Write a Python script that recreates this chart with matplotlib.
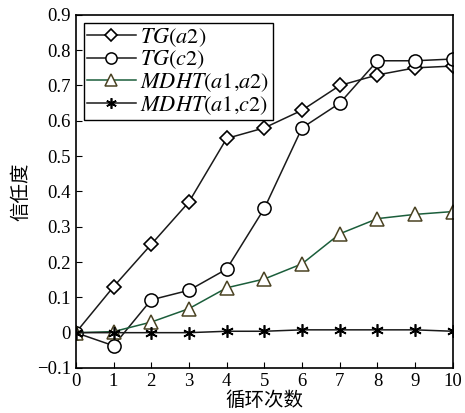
import matplotlib
matplotlib.use('Agg')
import matplotlib.pyplot as plt

plt.rcParams['font.family'] = ['Liberation Serif', 'Noto Sans CJK SC']
plt.rcParams['mathtext.fontset'] = 'stix'

# --- data ---
cycles = [0, 1, 2, 3, 4, 5, 6, 7, 8, 9, 10]
tg_a2 = [0, 0.13, 0.25, 0.37, 0.55, 0.58, 0.63, 0.70, 0.73, 0.75, 0.755]
tg_c2 = [0, -0.037, 0.093, 0.12, 0.18, 0.352, 0.58, 0.65, 0.77, 0.77, 0.775]
mdht_a1a2 = [0, 0.003, 0.03, 0.068, 0.127, 0.152, 0.195, 0.28, 0.323, 0.335, 0.343]
mdht_a1c2 = [0, 0, 0, 0, 0.004, 0.004, 0.008, 0.008, 0.008, 0.008, 0.004]

fig = plt.figure(figsize=(4.65, 4.13), dpi=100)
ax = fig.add_axes([0.163, 0.109, 0.811, 0.855])

ax.plot(cycles, tg_a2, color='#1a1a1a', lw=1.1, marker='D', ms=7.5,
        mfc='white', mec='black', mew=1.2, label=r'$TG(a2)$')
ax.plot(cycles, tg_c2, color='#1a1a1a', lw=1.1, marker='o', ms=9.5,
        mfc='white', mec='black', mew=1.1, label=r'$TG(c2)$')
ax.plot(cycles, mdht_a1a2, color='#1b5e3b', lw=1.1, marker='^', ms=10,
        mfc='white', mec='#4a4222', mew=1.1, label=r'$MDHT(a1{,}a2)$')
ax.plot(cycles, mdht_a1c2, color='#1a1a1a', lw=1.1, marker=(6, 2, 0), ms=9,
        mec='black', mew=1.2, label=r'$MDHT(a1{,}c2)$')

ax.set_xlim(0, 10)
ax.set_ylim(-0.1, 0.9)
ax.set_xticks(range(0, 11))
ax.set_yticks([-0.1, 0, 0.1, 0.2, 0.3, 0.4, 0.5, 0.6, 0.7, 0.8, 0.9])
ax.set_yticklabels(['\u22120.1', '0', '0.1', '0.2', '0.3', '0.4', '0.5',
                    '0.6', '0.7', '0.8', '0.9'])
ax.tick_params(direction='in', length=4, labelsize=13.5, color='black',
               top=False, right=False)
for s in ax.spines.values():
    s.set_linewidth(1.2)

ax.set_xlabel('循环次数', fontsize=14, labelpad=0, family=['Noto Sans CJK SC'])
ax.set_ylabel('信任度', fontsize=14, labelpad=4, family=['Noto Sans CJK SC'])

leg = ax.legend(loc='upper left', fontsize=16, frameon=True, fancybox=False,
                edgecolor='black', framealpha=1, handlelength=2.2,
                handletextpad=0.2, borderpad=0.15, labelspacing=0.0,
                borderaxespad=0.35, markerscale=0.85)
leg.get_frame().set_linewidth(1.0)

fig.savefig('out.png', dpi=100, facecolor='white')
